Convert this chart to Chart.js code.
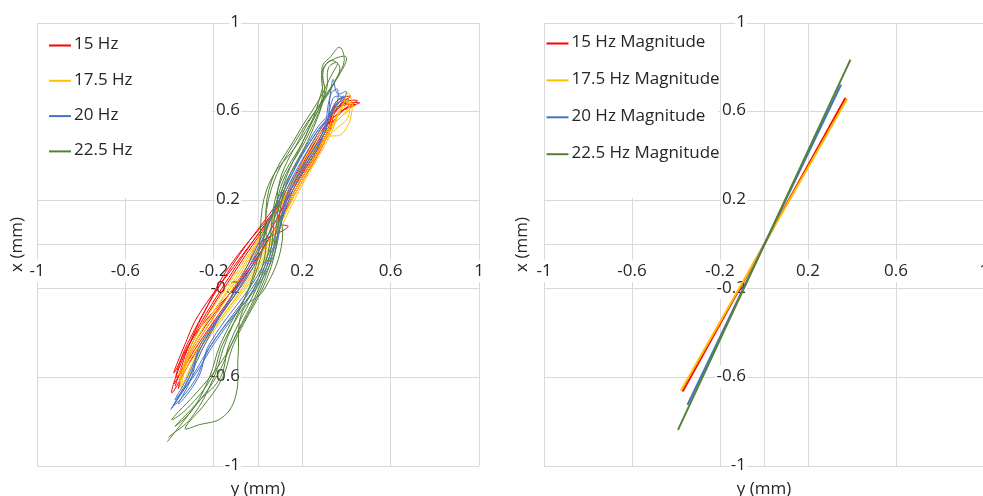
<!DOCTYPE html>
<html>

<head>
    <title>Displacement orbits</title>
    <script src="https://cdn.jsdelivr.net/npm/chart.js"></script>
    <style>
        html, body { margin: 0; padding: 0; background: #fff; overflow: hidden; }
        .panel { position: absolute; top: 0; width: 505px; height: 496px; }
        #leftPanel { left: 0; }
        #rightPanel { left: 505px; }
    </style>
</head>

<body>
    <div class="panel" id="leftPanel"><canvas id="orbitChart"></canvas></div>
    <div class="panel" id="rightPanel"><canvas id="magnitudeChart"></canvas></div>

    <script>
        const frequencies = ['15 Hz', '17.5 Hz', '20 Hz', '22.5 Hz'];
        const magnitudeNames = ['15 Hz Magnitude', '17.5 Hz Magnitude', '20 Hz Magnitude', '22.5 Hz Magnitude'];
        const seriesColors = ['#ff0000', '#ffc000', '#4472c4', '#548235'];
        const axisTicks = [-1, -0.6, -0.2, 0.2, 0.6, 1];
        const horizontalTitle = 'y (mm)';
        const verticalTitle = 'x (mm)';

        // orbit traces, each point is [y (mm), x (mm)]
        const orbit15 = [
            [-0.38, -0.63], [-0.27, -0.45], [-0.03, -0.10], [0.18, 0.25], [0.32, 0.50], [0.36, 0.62],
            [0.46, 0.64], [0.38, 0.605], [0.28, 0.50], [0.14, 0.25], [-0.10, -0.10], [-0.31, -0.45],
            [-0.39, -0.67], [-0.26, -0.45], [-0.02, -0.10], [0.17, 0.25], [0.31, 0.50], [0.35, 0.64],
            [0.42, 0.67], [0.37, 0.63], [0.27, 0.50], [0.13, 0.25], [-0.12, -0.10], [-0.32, -0.45],
            [-0.37, -0.60], [-0.28, -0.45], [-0.05, -0.10], [0.00, 0.00], [0.136, 0.08], [0.09, 0.10],
            [0.15, 0.25], [0.30, 0.50], [0.34, 0.61], [0.44, 0.63], [0.36, 0.59], [0.29, 0.50],
            [0.15, 0.25], [-0.09, -0.10], [-0.30, -0.45],
            [-0.36, -0.65], [-0.29, -0.45], [-0.04, -0.10], [0.16, 0.25], [0.31, 0.50], [0.37, 0.63],
            [0.45, 0.65], [0.39, 0.61], [0.30, 0.50], [0.15, 0.25], [-0.11, -0.10], [-0.27, -0.32],
            [-0.33, -0.45],
            [-0.38, -0.58], [-0.28, -0.40], [-0.03, -0.10], [0.17, 0.25], [0.32, 0.52], [0.35, 0.63],
            [0.41, 0.655], [0.36, 0.61], [0.28, 0.50], [0.14, 0.24], [-0.13, -0.10], [-0.24, -0.30],
            [-0.31, -0.45], [-0.375, -0.64]
        ];
        const orbit17 = [
            [-0.36, -0.61], [-0.25, -0.45], [-0.01, -0.10], [0.18, 0.25], [0.32, 0.50], [0.38, 0.62],
            [0.41, 0.685], [0.425, 0.60], [0.38, 0.50], [0.31, 0.48], [0.13, 0.25], [-0.06, -0.10],
            [-0.29, -0.45],
            [-0.345, -0.66], [-0.24, -0.45], [0.01, -0.10], [0.19, 0.25], [0.33, 0.50], [0.37, 0.60],
            [0.42, 0.64], [0.38, 0.58], [0.28, 0.50], [0.14, 0.25], [-0.05, -0.10], [-0.28, -0.45],
            [-0.36, -0.59], [-0.26, -0.45], [-0.02, -0.10], [0.17, 0.25], [0.31, 0.50], [0.36, 0.63],
            [0.40, 0.66], [0.41, 0.58], [0.35, 0.52], [0.27, 0.45], [0.15, 0.25], [-0.08, -0.10],
            [-0.30, -0.45],
            [-0.35, -0.64], [-0.25, -0.45], [0.00, -0.10], [0.18, 0.25], [0.33, 0.52], [0.39, 0.64],
            [0.43, 0.63], [0.37, 0.57], [0.28, 0.48], [0.14, 0.25], [-0.07, -0.10], [-0.29, -0.45],
            [-0.355, -0.62]
        ];
        const orbit20 = [
            [-0.39, -0.74], [-0.30, -0.60], [-0.21, -0.45], [0.03, -0.10], [0.16, 0.25], [0.30, 0.50],
            [0.33, 0.70], [0.34, 0.745], [0.36, 0.68], [0.40, 0.69], [0.37, 0.63], [0.26, 0.50],
            [0.12, 0.25], [-0.04, -0.10], [-0.25, -0.45], [-0.33, -0.62],
            [-0.375, -0.70], [-0.28, -0.58], [-0.20, -0.45], [0.04, -0.10], [0.15, 0.25], [0.29, 0.50],
            [0.35, 0.64], [0.39, 0.67], [0.35, 0.62], [0.27, 0.50], [0.13, 0.25], [-0.02, -0.10],
            [-0.26, -0.45], [-0.30, -0.60],
            [-0.36, -0.72], [-0.27, -0.60], [-0.22, -0.45], [0.02, -0.10], [0.15, 0.25], [0.30, 0.50],
            [0.34, 0.66], [0.38, 0.665], [0.34, 0.61], [0.25, 0.50], [0.12, 0.25], [-0.05, -0.10],
            [-0.24, -0.45], [-0.31, -0.60],
            [-0.38, -0.725], [-0.29, -0.62], [-0.21, -0.45], [0.05, -0.10], [0.14, 0.25], [0.29, 0.50],
            [0.33, 0.68], [0.36, 0.70], [0.35, 0.62], [0.26, 0.50], [0.11, 0.25], [-0.03, -0.10],
            [-0.25, -0.45], [-0.32, -0.62], [-0.395, -0.745]
        ];
        const orbit22 = [
            [-0.41, -0.89], [-0.30, -0.75], [-0.19, -0.60], [-0.12, -0.45], [0.04, -0.10], [0.10, 0.25],
            [0.23, 0.50], [0.30, 0.68], [0.29, 0.80], [0.33, 0.85], [0.37, 0.89], [0.39, 0.83],
            [0.36, 0.76], [0.30, 0.66], [0.19, 0.50], [0.06, 0.25], [0.00, -0.10], [-0.17, -0.45],
            [-0.22, -0.60], [-0.30, -0.75],
            [-0.375, -0.82], [-0.26, -0.70], [-0.17, -0.60], [-0.13, -0.45], [0.03, -0.10], [0.09, 0.25],
            [0.22, 0.50], [0.29, 0.70], [0.30, 0.80], [0.35, 0.84], [0.40, 0.845], [0.37, 0.77],
            [0.31, 0.68], [0.20, 0.50], [0.09, 0.25], [0.11, 0.02], [0.03, -0.20], [-0.07, -0.30],
            [-0.09, -0.50], [-0.10, -0.68], [-0.16, -0.78], [-0.27, -0.815],
            [-0.33, -0.83], [-0.24, -0.72], [-0.16, -0.60], [-0.11, -0.45], [0.06, -0.10], [0.12, 0.25],
            [0.24, 0.50], [0.31, 0.70], [0.32, 0.80], [0.36, 0.82], [0.33, 0.76], [0.28, 0.66],
            [0.18, 0.50], [0.05, 0.25], [0.02, -0.10], [-0.16, -0.45], [-0.21, -0.60], [-0.32, -0.74],
            [-0.39, -0.79], [-0.27, -0.66], [-0.18, -0.55], [-0.12, -0.45], [0.05, -0.10], [0.11, 0.25],
            [0.22, 0.50], [0.29, 0.66], [0.29, 0.78], [0.33, 0.83], [0.37, 0.80], [0.34, 0.72],
            [0.28, 0.62], [0.19, 0.47], [0.04, 0.25], [-0.01, -0.10], [-0.15, -0.45], [-0.20, -0.60],
            [-0.30, -0.78], [-0.405, -0.87]
        ];

        // magnitude lines, two end points each, [y (mm), x (mm)]
        const magnitude15 = [[-0.370, -0.664], [0.370, 0.662]];
        const magnitude17 = [[-0.378, -0.660], [0.378, 0.658]];
        const magnitude20 = [[-0.348, -0.724], [0.350, 0.721]];
        const magnitude22 = [[-0.391, -0.837], [0.393, 0.835]];

        const orbits = [orbit15, orbit17, orbit20, orbit22];
        const magnitudes = [magnitude15, magnitude17, magnitude20, magnitude22];

        Chart.defaults.font.family = "'Open Sans', sans-serif";
        Chart.defaults.font.size = 17;
        Chart.defaults.color = '#262626';

        const gridColor = '#d9d9d9';

        // axis titles sit outside the plot, axes themselves cross at zero
        const axisTitlePlugin = {
            id: 'axisTitles',
            afterDraw(chart) {
                const { ctx, chartArea } = chart;
                ctx.save();
                ctx.fillStyle = '#262626';
                ctx.font = "17px 'Open Sans', sans-serif";
                ctx.textAlign = 'center';
                ctx.textBaseline = 'middle';
                ctx.fillText(horizontalTitle, (chartArea.left + chartArea.right) / 2, chartArea.bottom + 23);
                ctx.translate(17, (chartArea.top + chartArea.bottom) / 2);
                ctx.rotate(-Math.PI / 2);
                ctx.fillText(verticalTitle, 0, 0);
                ctx.restore();
            }
        };

        // y labels of an axis placed at x = 0 sit flush on the line, move them clear of it
        const yLabelGapPlugin = {
            id: 'yLabelGap',
            beforeDraw(chart) {
                const items = chart.scales.y.getLabelItems(chart.chartArea);
                if (items.shifted) return;
                items.forEach(item => {
                    item.options.translation[0] -= 18;
                    item.options.translation[1] -= 1;
                });
                items.shifted = true;
            }
        };

        // legend drawn on a white panel in the upper left of the plot
        const boxedLegendPlugin = {
            id: 'boxedLegend',
            beforeDatasetsDraw(chart, args, opts) {
                const { ctx, chartArea, scales } = chart;
                const right = scales.x.getPixelForValue(-0.2) - 2;
                const bottom = scales.y.getPixelForValue(0.2) - 2;
                ctx.save();
                ctx.fillStyle = '#ffffff';
                ctx.fillRect(chartArea.left + 1, chartArea.top + 1, right - chartArea.left - 1, bottom - chartArea.top - 1);
                ctx.font = "17px 'Open Sans', sans-serif";
                ctx.textBaseline = 'middle';
                ctx.textAlign = 'left';
                chart.data.datasets.forEach((ds, i) => {
                    const y = chartArea.top + opts.top + i * opts.step;
                    const x0 = chartArea.left + opts.left;
                    ctx.strokeStyle = ds.borderColor;
                    ctx.lineWidth = 2;
                    ctx.beginPath();
                    ctx.moveTo(x0, y + 1);
                    ctx.lineTo(x0 + 22, y + 1);
                    ctx.stroke();
                    ctx.fillStyle = '#262626';
                    ctx.fillText(ds.label, x0 + opts.textGap, y);
                });
                ctx.restore();
            }
        };

        const makeScales = () => ({
            x: {
                type: 'linear',
                min: -1,
                max: 1,
                position: { y: 0 },
                afterBuildTicks: (axis) => { axis.ticks = axisTicks.map(v => ({ value: v })); },
                grid: { color: gridColor, drawTicks: false },
                border: { color: gridColor },
                ticks: {
                    padding: 16,
                    maxRotation: 0,
                    autoSkip: false,
                    showLabelBackdrop: true,
                    backdropColor: '#ffffff',
                    backdropPadding: 1,
                    callback: (v) => String(v)
                }
            },
            y: {
                type: 'linear',
                min: -1,
                max: 1,
                position: { x: 0 },
                afterBuildTicks: (axis) => { axis.ticks = axisTicks.map(v => ({ value: v })); },
                grid: { color: gridColor, drawTicks: false },
                border: { color: gridColor },
                ticks: {
                    autoSkip: false,
                    showLabelBackdrop: true,
                    backdropColor: '#ffffff',
                    backdropPadding: 1,
                    callback: (v) => String(v)
                }
            }
        });

        const toPoints = (pairs) => pairs.map(p => ({ x: p[0], y: p[1] }));

        new Chart(document.getElementById('orbitChart'), {
            type: 'scatter',
            data: {
                datasets: orbits.map((pairs, i) => ({
                    label: frequencies[i],
                    data: toPoints(pairs),
                    showLine: true,
                    borderColor: seriesColors[i],
                    borderWidth: 1,
                    pointRadius: 0,
                    tension: 0.4,
                    order: -i
                }))
            },
            options: {
                responsive: true,
                maintainAspectRatio: false,
                animation: false,
                layout: { padding: { left: 37, top: 23, right: 26, bottom: 30 } },
                scales: makeScales(),
                plugins: {
                    legend: { display: false },
                    tooltip: { enabled: false },
                    boxedLegend: { left: 12, top: 21.5, step: 35.3, textGap: 25 }
                }
            },
            plugins: [yLabelGapPlugin, boxedLegendPlugin, axisTitlePlugin]
        });

        new Chart(document.getElementById('magnitudeChart'), {
            type: 'scatter',
            data: {
                datasets: magnitudes.map((pairs, i) => ({
                    label: magnitudeNames[i],
                    data: toPoints(pairs),
                    showLine: true,
                    borderColor: seriesColors[i],
                    borderWidth: 2,
                    pointRadius: 0,
                    order: -i
                }))
            },
            options: {
                responsive: true,
                maintainAspectRatio: false,
                animation: false,
                layout: { padding: { left: 39, top: 23, right: 26, bottom: 30 } },
                scales: makeScales(),
                plugins: {
                    legend: { display: false },
                    tooltip: { enabled: false },
                    boxedLegend: { left: 2.5, top: 19.5, step: 36.9, textGap: 25 }
                }
            },
            plugins: [yLabelGapPlugin, boxedLegendPlugin, axisTitlePlugin]
        });
    </script>
</body>

</html>
